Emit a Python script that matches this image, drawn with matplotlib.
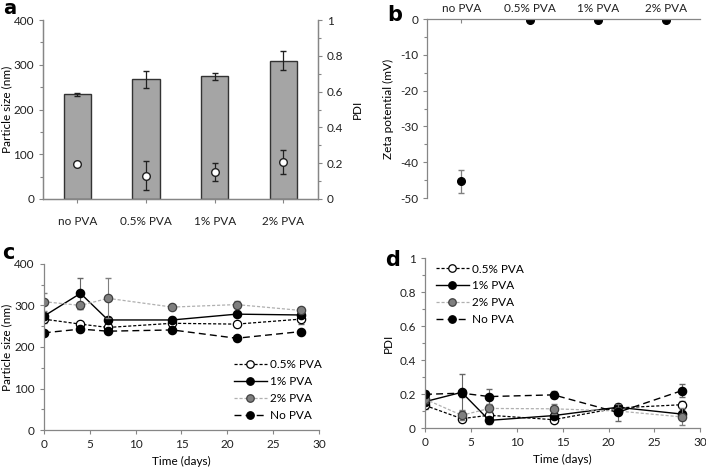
import numpy as np
import matplotlib.pyplot as plt

plt.rcParams['font.family'] = ['Lato', 'DejaVu Sans']
plt.rcParams['font.size'] = 8.5
plt.rcParams['axes.unicode_minus'] = False

# panel a / b data
groups = ['no PVA', '0.5% PVA', '1% PVA', '2% PVA']
size_mean = [234, 268, 274, 309]
size_err = [4, 19, 7.5, 21]
pdi_mean = [0.196, 0.131, 0.153, 0.206]
pdi_err = [0.012, 0.081, 0.05, 0.065]
zeta_mean = [-45.3, -0.3, -0.3, -0.3]
zeta_err = [3.2, 0.3, 0.3, 0.3]

# panel c / d data
days = [0, 4, 7, 14, 21, 28]
size_05 = [267, 255, 247, 257, 255, 267]
size_05_err = [10, 6, 5, 5, 5, 12]
size_1 = [274, 329, 265, 265, 279, 277]
size_1_err = [8, 37, 6, 6, 5, 5]
size_2 = [309, 300, 317, 296, 302, 288]
size_2_err = [22, 8, 48, 5, 8, 5]
size_no = [234, 243, 238, 241, 221, 237]
size_no_err = [5, 5, 5, 5, 5, 5]

pdi_05 = [0.133, 0.055, 0.075, 0.049, 0.118, 0.137]
pdi_05_err = [0.02, 0.015, 0.02, 0.015, 0.02, 0.02]
pdi_1 = [0.155, 0.21, 0.045, 0.073, 0.122, 0.082]
pdi_1_err = [0.02, 0.108, 0.02, 0.02, 0.02, 0.02]
pdi_2 = [0.17, 0.075, 0.115, 0.113, 0.1, 0.065]
pdi_2_err = [0.02, 0.03, 0.02, 0.03, 0.02, 0.05]
pdi_no = [0.198, 0.205, 0.185, 0.195, 0.092, 0.22]
pdi_no_err = [0.02, 0.02, 0.045, 0.02, 0.05, 0.04]

SPINE = '#868686'

fig = plt.figure(figsize=(7.06, 4.67), dpi=100)

def style(ax):
    for s in ax.spines.values():
        s.set_color(SPINE)
        s.set_linewidth(0.9)
    ax.tick_params(color=SPINE, length=3, width=0.8, labelcolor='#202020')
    ax.tick_params(which='minor', color=SPINE, length=2, width=0.8)

# ---- panel a
ax = fig.add_axes([0.061, 0.574, 0.389, 0.383])
x = np.arange(1, 5)
ax.bar(x, size_mean, width=0.4, color='#a5a5a5', edgecolor='#333333', linewidth=1.0, zorder=2)
ax.errorbar(x, size_mean, yerr=size_err, fmt='none', ecolor='#202020', elinewidth=0.9, capsize=2.5, zorder=3)
ax.set_xlim(0.5, 4.5)
ax.set_ylim(0, 400)
ax.set_yticks([0, 100, 200, 300, 400])
ax.set_yticks(np.arange(50, 400, 100), minor=True)
ax.set_xticks(x)
ax.set_xticklabels(groups)
ax.tick_params(axis='x', length=0, pad=9)
ax.set_ylabel('Particle size (nm)', labelpad=1)
ax.spines['top'].set_visible(False)
style(ax)
ax2 = ax.twinx()
ax2.errorbar(x, pdi_mean, yerr=pdi_err, fmt='o', ms=5.5, mfc='white', mec='#202020', mew=1.0,
             ecolor='#202020', elinewidth=0.9, capsize=2.5, zorder=4)
ax2.set_ylim(0, 1)
ax2.set_yticks([0, 0.2, 0.4, 0.6, 0.8, 1])
ax2.set_yticklabels(['0', '0.2', '0.4', '0.6', '0.8', '1'])
ax2.set_yticks(np.arange(0.1, 1, 0.2), minor=True)
ax2.set_ylabel('PDI', rotation=90, labelpad=6)
ax2.spines['top'].set_visible(False)
style(ax2)
fig.text(0.004, 0.97, 'a', fontsize=14, fontweight='bold', family='DejaVu Sans')

# ---- panel b
ax = fig.add_axes([0.605, 0.576, 0.387, 0.383])
ax.errorbar(x, zeta_mean, yerr=zeta_err, fmt='o', ms=5.5, color='black',
            ecolor='#7f7f7f', elinewidth=0.9, capsize=2.5)
ax.set_xlim(0.5, 4.5)
ax.set_ylim(-50, 0)
ax.set_yticks(np.arange(-50, 1, 10))
ax.set_yticks(np.arange(-45, 0, 10), minor=True)
ax.set_xticks(x)
ax.set_xticklabels(groups)
ax.xaxis.tick_top()
ax.tick_params(axis='x', direction='in', length=2.5, pad=4)
ax.spines['bottom'].set_visible(False)
ax.spines['right'].set_visible(False)
ax.set_ylabel('Zeta potential (mV)', labelpad=4)
style(ax)
fig.text(0.548, 0.955, 'b', fontsize=15, fontweight='bold', family='DejaVu Sans')

# ---- panel c / d
def timecourse(ax, series, errs):
    specs = [
        ('0.5% PVA', dict(color='black', ls=(0, (2.5, 1.5)), lw=0.9, mfc='white', mec='black')),
        ('1% PVA', dict(color='black', ls='-', lw=1.0, mfc='black', mec='black')),
        ('2% PVA', dict(color='#b0b0b0', ls=(0, (2.5, 1.5)), lw=0.9, mfc='#7f7f7f', mec='#404040')),
        ('No PVA', dict(color='black', ls=(0, (5, 3)), lw=1.0, mfc='black', mec='black')),
    ]
    for (lab, kw), ys, es in zip(specs, series, errs):
        ecol = '#7f7f7f' if lab == '2% PVA' else '#666666'
        ax.errorbar(days, ys, yerr=es, fmt='none', ecolor=ecol, elinewidth=0.8, capsize=2)
        ax.plot(days, ys, marker='o', ms=6, mew=0.9, label=lab, **kw)
    ax.set_xlim(0, 30)
    ax.set_xticks(range(0, 31, 5))
    ax.set_xlabel('Time (days)', labelpad=4)
    ax.spines['top'].set_visible(False)
    ax.spines['right'].set_visible(False)
    style(ax)

legend_kw = dict(frameon=False, handlelength=2.8, handletextpad=0.3, labelspacing=0.5,
                 fontsize=8.5, markerscale=0.9)

ax = fig.add_axes([0.062, 0.079, 0.390, 0.356])
timecourse(ax, [size_05, size_1, size_2, size_no],
           [size_05_err, size_1_err, size_2_err, size_no_err])
ax.set_ylim(0, 400)
ax.set_yticks(range(0, 401, 100))
ax.set_yticks(range(50, 400, 100), minor=True)
ax.set_ylabel('Particle size (nm)', labelpad=1)
ax.legend(loc='lower right', bbox_to_anchor=(1.05, -0.01), **legend_kw)
fig.text(0.003, 0.445, 'c', fontsize=15, fontweight='bold', family='DejaVu Sans')

ax = fig.add_axes([0.602, 0.0835, 0.390, 0.364])
timecourse(ax, [pdi_05, pdi_1, pdi_2, pdi_no],
           [pdi_05_err, pdi_1_err, pdi_2_err, pdi_no_err])
ax.set_ylim(0, 1)
ax.set_yticks([0, 0.2, 0.4, 0.6, 0.8, 1])
ax.set_yticklabels(['0', '0.2', '0.4', '0.6', '0.8', '1'])
ax.set_yticks(np.arange(0.1, 1, 0.2), minor=True)
ax.set_ylabel('PDI', labelpad=4)
ax.legend(loc='upper left', bbox_to_anchor=(0.0, 1.03), **legend_kw)
fig.text(0.545, 0.43, 'd', fontsize=15, fontweight='bold', family='DejaVu Sans')

fig.savefig('out.png', dpi=100)
